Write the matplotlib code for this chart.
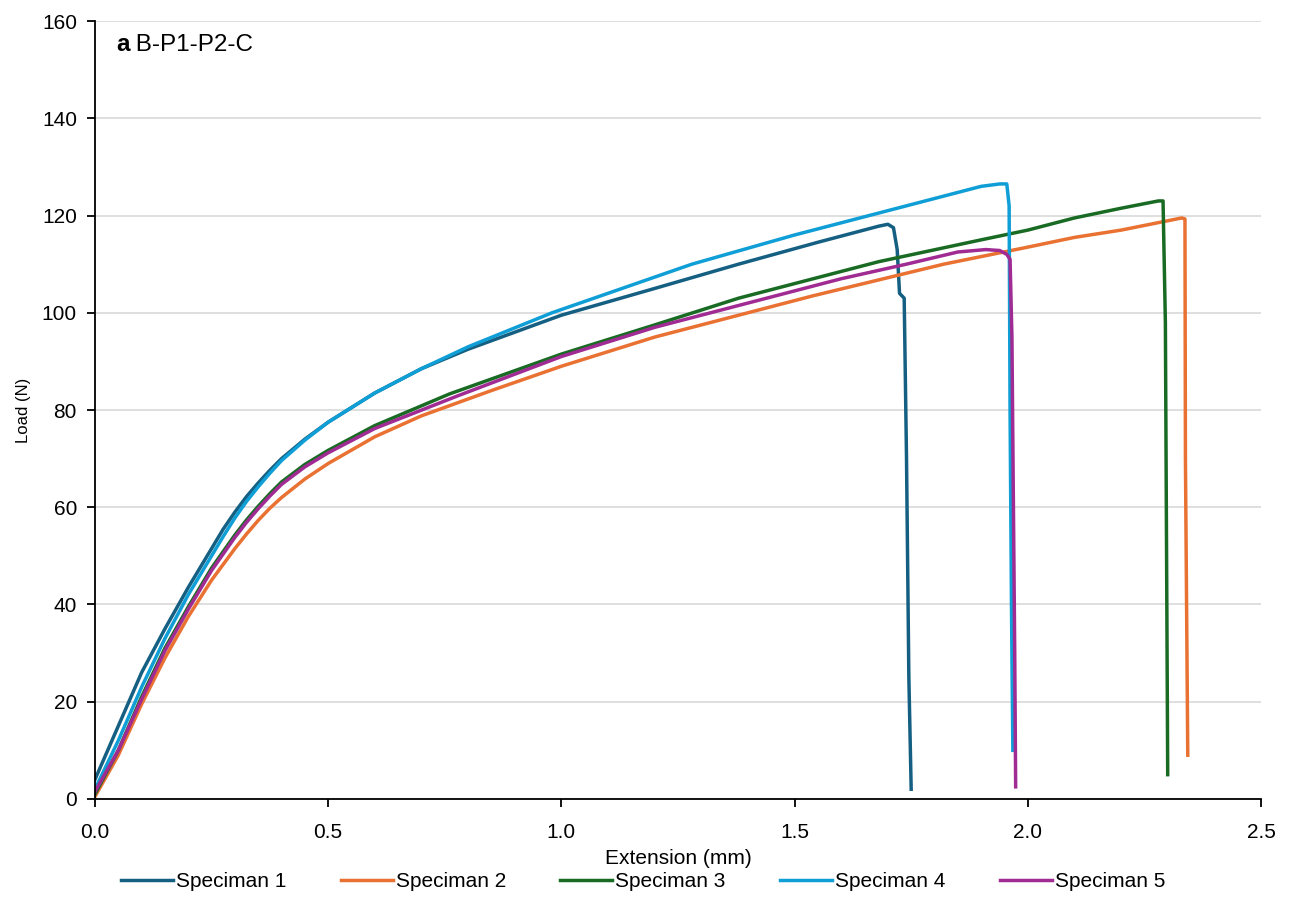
import matplotlib.pyplot as plt

plt.switch_backend("agg")
plt.rcParams["font.family"] = ["Liberation Sans Narrow", "Liberation Sans", "DejaVu Sans"]

# --- data ---
s1_x = [0, 0.05, 0.1, 0.15, 0.2, 0.25, 0.275, 0.3, 0.325, 0.35, 0.375, 0.4, 0.45, 0.5,
        0.6, 0.7, 0.8, 0.9, 1.0, 1.2, 1.38, 1.55, 1.68, 1.70, 1.712, 1.72, 1.725,
        1.735, 1.74, 1.745, 1.75]
s1_y = [4, 15, 26, 35, 43.5, 51.5, 55.5, 59, 62.2, 65, 67.6, 70, 74, 77.5,
        83.5, 88.5, 92.5, 96, 99.5, 105, 110, 114.5, 117.8, 118.2, 117.5, 113, 104,
        103, 70, 25, 2]

s2_x = [0, 0.05, 0.1, 0.15, 0.2, 0.25, 0.3, 0.325, 0.35, 0.375, 0.4, 0.45, 0.5, 0.6,
        0.7, 0.85, 1.0, 1.2, 1.54, 1.82, 2.0, 2.1, 2.2, 2.33, 2.337, 2.338, 2.343]
s2_y = [0.5, 9, 19.5, 29, 37.5, 45, 51.5, 54.5, 57.3, 59.8, 62, 65.8, 69, 74.5,
        78.8, 84, 89, 95, 103.5, 110, 113.5, 115.5, 117, 119.5, 119.3, 70, 9]

s3_x = [0, 0.05, 0.1, 0.15, 0.2, 0.25, 0.3, 0.325, 0.35, 0.375, 0.4, 0.45, 0.5, 0.6,
        0.76, 1.0, 1.2, 1.38, 1.5, 1.68, 1.9, 2.0, 2.1, 2.2, 2.28, 2.29, 2.295, 2.30]
s3_y = [1, 10, 21, 31, 39.5, 47.5, 54.3, 57.4, 60.2, 62.8, 65.2, 68.8, 71.7, 76.8,
        83.3, 91.5, 97.5, 103, 106, 110.5, 115, 117, 119.5, 121.5, 123, 123, 98, 5]

s4_x = [0, 0.05, 0.1, 0.15, 0.2, 0.25, 0.275, 0.3, 0.325, 0.35, 0.375, 0.4, 0.45, 0.5,
        0.6, 0.7, 0.8, 0.98, 1.28, 1.5, 1.66, 1.8, 1.9, 1.94, 1.955, 1.96, 1.962,
        1.965, 1.968]
s4_y = [2, 12, 23, 33, 42, 50, 54, 57.8, 61.2, 64.2, 67, 69.6, 73.8, 77.5,
        83.5, 88.5, 93, 100, 110, 116, 120, 123.5, 126, 126.5, 126.5, 122, 80,
        40, 10]

s5_x = [0, 0.05, 0.1, 0.15, 0.2, 0.25, 0.3, 0.325, 0.35, 0.375, 0.4, 0.45, 0.5, 0.6,
        0.78, 1.0, 1.2, 1.46, 1.6, 1.74, 1.85, 1.91, 1.94, 1.955, 1.962, 1.966,
        1.972, 1.974]
s5_y = [1.5, 10, 20.5, 30.5, 39, 47, 53.8, 56.9, 59.7, 62.3, 64.7, 68.3, 71.2, 76.2,
        83, 91, 97, 103.5, 107, 110, 112.5, 113, 112.8, 112, 111, 95,
        30, 2.5]

labels = ["Speciman 1", "Speciman 2", "Speciman 3", "Speciman 4", "Speciman 5"]
colors = ["#156082", "#E97132", "#196B24", "#0F9ED5", "#A02B93"]
series = [(s1_x, s1_y), (s2_x, s2_y), (s3_x, s3_y), (s4_x, s4_y), (s5_x, s5_y)]

fig = plt.figure(figsize=(12.92, 9.15), dpi=100, facecolor="white")
ax = fig.add_axes([0.0735, 0.1268, 0.9025, 0.8502])

for (xs, ys), lab, col in zip(series, labels, colors):
    ax.plot(xs, ys, color=col, lw=2.5, label=lab, solid_joinstyle="round")

ax.set_xlim(0, 2.5)
ax.set_ylim(0, 160)
ax.set_xticks([0, 0.5, 1.0, 1.5, 2.0, 2.5])
ax.set_xticklabels(["0.0", "0.5", "1.0", "1.5", "2.0", "2.5"])
ax.set_yticks(range(0, 161, 20))
ax.grid(axis="y", color="#d9d9d9", lw=1.2)
ax.set_axisbelow(True)
for s in ("top", "right"):
    ax.spines[s].set_visible(False)
for s in ("left", "bottom"):
    ax.spines[s].set_color("black")
    ax.spines[s].set_linewidth(1.3)
ax.tick_params(direction="out", length=6, width=1.3, labelsize=15)
ax.tick_params(axis="x", pad=11)
ax.tick_params(axis="y", pad=7)

ax.set_xlabel("Extension (mm)", fontsize=15, labelpad=5)
ax.set_ylabel("Load (N)", fontsize=12, labelpad=8)

t = ax.text(0.018, 0.985, "a", transform=ax.transAxes, fontsize=17.5,
            fontweight="bold", va="top", ha="left")
ax.annotate(" B-P1-P2-C", xy=(1, 0), xycoords=t, fontsize=17.5,
            va="bottom", ha="left")

ax.legend(loc="upper center", bbox_to_anchor=(0.470, -0.083), ncol=5,
          frameon=False, fontsize=15, handlelength=2.5, handletextpad=0.15,
          columnspacing=2.6, borderaxespad=0)

fig.savefig("out.png", dpi=100)
